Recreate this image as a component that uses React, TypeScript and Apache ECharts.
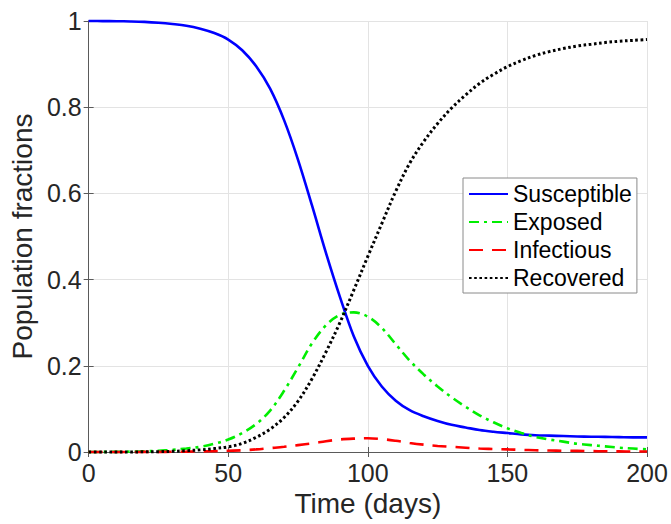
import React, { useEffect, useRef } from "react";
import * as echarts from "echarts";

const days = [0, 5, 10, 15, 20, 25, 30, 35, 40, 45, 50, 55, 60, 65, 70, 75, 80, 85, 90, 95, 100, 105, 110, 115, 120, 125, 130, 135, 140, 145, 150, 155, 160, 165, 170, 175, 180, 185, 190, 195, 200];
const susceptible = [1.0, 0.9998, 0.9995, 0.999, 0.998, 0.996, 0.993, 0.989, 0.982, 0.972, 0.957, 0.932, 0.895, 0.843, 0.77, 0.678, 0.572, 0.462, 0.36, 0.268, 0.2, 0.152, 0.119, 0.097, 0.083, 0.072, 0.063, 0.057, 0.051, 0.047, 0.044, 0.041, 0.039, 0.038, 0.037, 0.036, 0.0355, 0.035, 0.0345, 0.034, 0.034];
const exposed = [0, 0.0002, 0.0004, 0.0008, 0.0015, 0.003, 0.005, 0.008, 0.012, 0.019, 0.029, 0.044, 0.065, 0.096, 0.142, 0.196, 0.252, 0.294, 0.318, 0.324, 0.314, 0.288, 0.25, 0.212, 0.18, 0.152, 0.127, 0.105, 0.085, 0.069, 0.055, 0.044, 0.035, 0.029, 0.024, 0.019, 0.016, 0.013, 0.01, 0.008, 0.006];
const infectious = [0, 0.00003, 0.0001, 0.0001, 0.0002, 0.0003, 0.0005, 0.0008, 0.0013, 0.002, 0.003, 0.004, 0.006, 0.009, 0.012, 0.016, 0.02, 0.025, 0.029, 0.031, 0.032, 0.03, 0.026, 0.021, 0.017, 0.014, 0.012, 0.01, 0.008, 0.007, 0.006, 0.005, 0.004, 0.0035, 0.003, 0.0025, 0.002, 0.0017, 0.0014, 0.0012, 0.001];
const recovered = [0, 0, 0.0001, 0.0002, 0.0004, 0.0008, 0.0015, 0.003, 0.005, 0.008, 0.012, 0.02, 0.034, 0.053, 0.08, 0.118, 0.17, 0.232, 0.3, 0.376, 0.454, 0.53, 0.605, 0.67, 0.72, 0.762, 0.798, 0.828, 0.855, 0.876, 0.894, 0.908, 0.92, 0.929, 0.936, 0.942, 0.946, 0.95, 0.953, 0.955, 0.957];

const xTicks = [0, 50, 100, 150, 200];
const yTicks = [0, 0.2, 0.4, 0.6, 0.8, 1];

const FONT = "'Liberation Sans', Arial, Helvetica, sans-serif";
const TXT = "#262626";
const AX = "#5a5a5a";

function pairs(vals: number[]) {
  return days.map((d, i) => [d, vals[i]]);
}

export default function App() {
  const ref = useRef<HTMLDivElement>(null);
  useEffect(() => {
    if (!ref.current) return;
    const chart = echarts.init(ref.current, undefined, { renderer: "svg" });
    const axisCommon = {
      axisLine: { show: true, lineStyle: { color: AX, width: 1 } },
      axisTick: { show: true, inside: true, length: 5, lineStyle: { color: AX } },
    };
    const lineBase = {
      type: "line" as const,
      showSymbol: false,
      symbol: "none",
      smooth: 0.35,
      clip: false,
      xAxisIndex: 0,
      yAxisIndex: 0,
    };
    chart.setOption({
      animation: false,
      backgroundColor: "#fff",
      textStyle: { fontFamily: FONT },
      grid: { left: 87, right: 24, top: 21, bottom: 72, containLabel: false },
      legend: {
        orient: "vertical",
        left: 463,
        top: 178,
        padding: [4, 5, 3, 5],
        itemWidth: 39,
        itemHeight: 14,
        itemGap: 4,
        backgroundColor: "#fff",
        borderColor: "#8a8a8a",
        borderWidth: 1,
        borderRadius: 0,
        itemStyle: { opacity: 0 },
        textStyle: { fontFamily: FONT, fontSize: 23, color: "#000", lineHeight: 24 },
        data: ["Susceptible", "Exposed", "Infectious", "Recovered"],
      },
      xAxis: [
        {
          type: "value",
          min: 0,
          max: 200,
          interval: 50,
          position: "bottom",
          ...axisCommon,
          axisLabel: { color: TXT, fontSize: 25, fontFamily: FONT, margin: 8, formatter: (v: number) => String(v) },
          splitLine: { show: true, lineStyle: { color: "#e3e3e3", width: 1 } },
          name: "Time (days)",
          nameLocation: "middle",
          nameGap: 32,
          nameTextStyle: { color: TXT, fontSize: 28, fontFamily: FONT },
          data: xTicks,
        },
        {
          type: "value",
          min: 0,
          max: 200,
          interval: 50,
          position: "top",
          ...axisCommon,
          axisLabel: { show: false },
          splitLine: { show: false },
        },
      ],
      yAxis: [
        {
          type: "value",
          min: 0,
          max: 1,
          interval: 0.2,
          position: "left",
          ...axisCommon,
          axisLabel: { color: TXT, fontSize: 25, fontFamily: FONT, margin: 7, formatter: (v: number) => String(Math.round(v * 10) / 10) },
          splitLine: { show: true, lineStyle: { color: "#e3e3e3", width: 1 } },
          name: "Population fractions",
          nameLocation: "middle",
          nameGap: 52,
          nameTextStyle: { color: TXT, fontSize: 28, fontFamily: FONT },
          data: yTicks,
        },
        {
          type: "value",
          min: 0,
          max: 1,
          interval: 0.2,
          position: "right",
          ...axisCommon,
          axisLabel: { show: false },
          splitLine: { show: false },
        },
      ],
      series: [
        {
          ...lineBase,
          name: "Susceptible",
          data: pairs(susceptible),
          lineStyle: { color: "#0000ff", width: 2.6, type: "solid" },
          itemStyle: { color: "#0000ff" },
        },
        {
          ...lineBase,
          name: "Exposed",
          data: pairs(exposed),
          lineStyle: { color: "#00ee00", width: 2.6, type: [10, 5, 3, 5] },
          itemStyle: { color: "#00ee00" },
        },
        {
          ...lineBase,
          name: "Infectious",
          data: pairs(infectious),
          lineStyle: { color: "#ff0000", width: 2.6, type: [14, 9] },
          itemStyle: { color: "#ff0000" },
        },
        {
          ...lineBase,
          name: "Recovered",
          data: pairs(recovered),
          lineStyle: { color: "#000000", width: 3, type: [2.6, 2.6] },
          itemStyle: { color: "#000000" },
        },
      ],
    });
    return () => chart.dispose();
  }, []);
  return <div ref={ref} style={{ width: 671, height: 524, position: "absolute", left: 0, top: 0 }} />;
}
